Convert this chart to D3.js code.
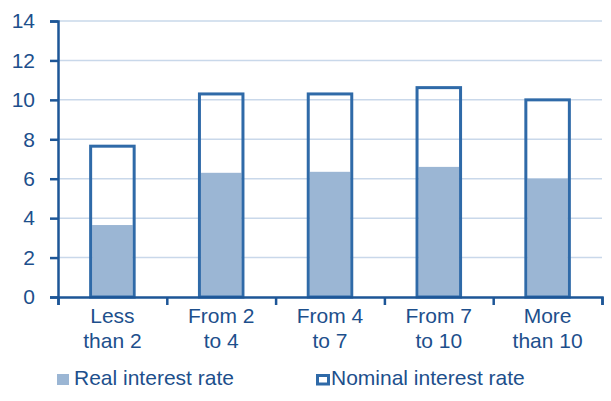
<!DOCTYPE html>
<html>
<head>
<meta charset="utf-8">
<script src="https://cdn.jsdelivr.net/npm/d3@7"></script>
<style>
  body { margin: 0; background: #fff; }
  text { font-family: "Liberation Sans", Arial, sans-serif; fill: #1d4f8c; }
</style>
</head>
<body>
<div id="chart"></div>
<script>
// chart data
var categories = [["Less", "than 2"], ["From 2", "to 4"], ["From 4", "to 7"], ["From 7", "to 10"], ["More", "than 10"]];
var realRate = [3.65, 6.3, 6.35, 6.6, 6.0];
var nominalRate = [7.65, 10.3, 10.3, 10.62, 10.0];
var yTicks = [0, 2, 4, 6, 8, 10, 12, 14];
var legendLabels = ["Real interest rate", "Nominal interest rate"];

var width = 611, height = 401;
var margin = { top: 21, right: 9, bottom: 104, left: 58 };
var fontSize = "21px";

var svg = d3.select("#chart").append("svg")
    .attr("width", width)
    .attr("height", height);

var x = d3.scaleBand()
    .domain(d3.range(categories.length))
    .range([margin.left, width - margin.right])
    .paddingInner(0.6)
    .paddingOuter(0.3);

var y = d3.scaleLinear()
    .domain([0, 14])
    .range([height - margin.bottom, margin.top]);

// grid lines
svg.append("g").selectAll("line")
    .data(yTicks.slice(1))
    .enter().append("line")
    .attr("x1", margin.left)
    .attr("x2", width - margin.right)
    .attr("y1", d => y(d))
    .attr("y2", d => y(d))
    .attr("stroke", "#c9d8ea")
    .attr("stroke-width", 1.5);

var sw = 3;
// real rate (filled)
svg.append("g").selectAll("rect")
    .data(realRate)
    .enter().append("rect")
    .attr("x", (d, i) => x(i) + sw / 2)
    .attr("width", x.bandwidth() - sw)
    .attr("y", d => y(d))
    .attr("height", d => y(0) - y(d))
    .attr("fill", "#9bb6d4");

// nominal rate (outline)
svg.append("g").selectAll("rect")
    .data(nominalRate)
    .enter().append("rect")
    .attr("x", (d, i) => x(i))
    .attr("width", x.bandwidth())
    .attr("y", d => y(d))
    .attr("height", d => y(0) - y(d))
    .attr("fill", "none")
    .attr("stroke", "#2f6aa8")
    .attr("stroke-width", sw);

// y axis
var yAxis = svg.append("g")
    .attr("transform", "translate(" + margin.left + ",0)")
    .call(d3.axisLeft(y).tickValues(yTicks).tickSize(8).tickPadding(15));
yAxis.selectAll("text").style("font-size", fontSize).attr("fill", "#1d4f8c");

// x axis
var xAxisScale = d3.scaleLinear().domain([0, categories.length]).range([margin.left, width - margin.right]);
svg.append("g")
    .attr("transform", "translate(0," + y(0) + ")")
    .call(d3.axisBottom(xAxisScale).tickValues(d3.range(categories.length + 1)).tickSize(8).tickFormat(""));
svg.selectAll(".domain, .tick line").attr("stroke", "#1d5697").attr("stroke-width", 2.5);

// category labels
var labels = svg.append("g").selectAll("text")
    .data(categories)
    .enter().append("text")
    .attr("text-anchor", "middle")
    .attr("x", (d, i) => x(i) + x.bandwidth() / 2)
    .attr("y", y(0) + 26)
    .style("font-size", fontSize);
labels.selectAll("tspan")
    .data(d => d)
    .enter().append("tspan")
    .attr("x", function () { return d3.select(this.parentNode).attr("x"); })
    .attr("dy", (d, i) => i === 0 ? 0 : 25)
    .text(d => d);

// legend
var legend = svg.append("g");
legend.append("rect")
    .attr("x", 57).attr("y", 374).attr("width", 12).attr("height", 11)
    .attr("fill", "#9bb6d4");
legend.append("text")
    .attr("x", 74).attr("y", 385)
    .style("font-size", fontSize)
    .text(legendLabels[0]);
legend.append("rect")
    .attr("x", 317.5).attr("y", 375.5).attr("width", 11).attr("height", 8.5)
    .attr("fill", "none").attr("stroke", "#2f6aa8").attr("stroke-width", 3);
legend.append("text")
    .attr("x", 331).attr("y", 385)
    .style("font-size", fontSize)
    .text(legendLabels[1]);
</script>
</body>
</html>
